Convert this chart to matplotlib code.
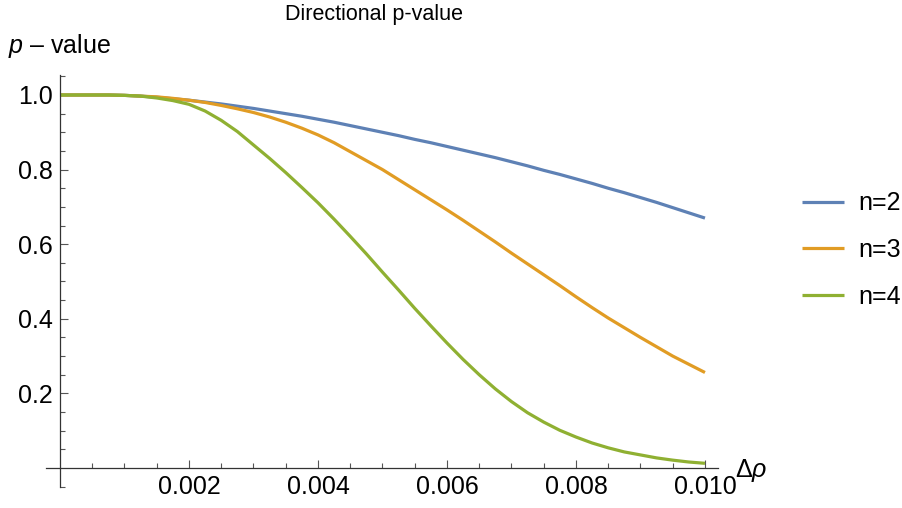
import matplotlib
matplotlib.use("Agg")
import matplotlib.pyplot as plt
from matplotlib.ticker import FixedLocator, FixedFormatter

plt.rcParams['font.family'] = ['Liberation Sans', 'DejaVu Sans']
plt.rcParams['mathtext.fontset'] = 'custom'
plt.rcParams['mathtext.rm'] = 'Liberation Sans'
plt.rcParams['mathtext.it'] = 'Liberation Sans:italic'

# values
delta_rho = [0.0, 0.00025, 0.0005, 0.00075, 0.001, 0.00125, 0.0015, 0.00175,
             0.002, 0.00225, 0.0025, 0.00275, 0.003, 0.00325, 0.0035, 0.00375,
             0.004, 0.00425, 0.0045, 0.00475, 0.005, 0.00525, 0.0055, 0.00575,
             0.006, 0.00625, 0.0065, 0.00675, 0.007, 0.00725, 0.0075, 0.00775,
             0.008, 0.00825, 0.0085, 0.00875, 0.009, 0.00925, 0.0095, 0.00975,
             0.010]
p_n2 = [1.000, 1.000, 1.000, 1.000, 0.999, 0.997, 0.994, 0.990, 0.986, 0.981,
        0.976, 0.970, 0.964, 0.957, 0.950, 0.943, 0.935, 0.927, 0.918, 0.909,
        0.900, 0.891, 0.881, 0.872, 0.862, 0.852, 0.842, 0.832, 0.821, 0.810,
        0.798, 0.787, 0.775, 0.763, 0.750, 0.738, 0.725, 0.712, 0.698, 0.684,
        0.670]
p_n3 = [1.000, 1.000, 1.000, 1.000, 0.999, 0.997, 0.995, 0.991, 0.986, 0.980,
        0.972, 0.963, 0.953, 0.941, 0.927, 0.911, 0.893, 0.872, 0.848, 0.824,
        0.800, 0.773, 0.746, 0.719, 0.692, 0.664, 0.635, 0.606, 0.576, 0.547,
        0.518, 0.489, 0.459, 0.430, 0.402, 0.376, 0.350, 0.325, 0.300, 0.278,
        0.256]
p_n4 = [1.000, 1.000, 1.000, 1.000, 0.999, 0.997, 0.992, 0.985, 0.975, 0.957,
        0.932, 0.902, 0.866, 0.830, 0.792, 0.752, 0.711, 0.667, 0.621, 0.574,
        0.525, 0.477, 0.428, 0.381, 0.335, 0.291, 0.250, 0.212, 0.178, 0.148,
        0.123, 0.101, 0.083, 0.067, 0.054, 0.043, 0.035, 0.027, 0.021, 0.016,
        0.0125]
series_labels = ["n=2", "n=3", "n=4"]
colors = ["#5E81B5", "#E19C24", "#8FB032"]

x_major = [0.002, 0.004, 0.006, 0.008, 0.010]
x_labels = ["0.002", "0.004", "0.006", "0.008", "0.010"]
y_major = [0.2, 0.4, 0.6, 0.8, 1.0]
y_labels = ["0.2", "0.4", "0.6", "0.8", "1.0"]
x_minor = [0.0005, 0.001, 0.0015, 0.0025, 0.003, 0.0035, 0.0045, 0.005, 0.0055,
           0.0065, 0.007, 0.0075, 0.0085, 0.009, 0.0095]
y_minor = [-0.05, 0.05, 0.1, 0.15, 0.25, 0.3, 0.35, 0.45, 0.5, 0.55, 0.65, 0.7,
           0.75, 0.85, 0.9, 0.95, 1.05]

fig = plt.figure(figsize=(9.03, 5.08), dpi=100)
ax = fig.add_axes([46 / 903, 21 / 508, 672 / 903, 412 / 508])

for ys, lab, col in zip([p_n2, p_n3, p_n4], series_labels, colors):
    ax.plot(delta_rho, ys, color=col, lw=2.3, label=lab, solid_capstyle='butt')

ax.set_xlim(-0.000217, 0.010202)
ax.set_ylim(-0.051, 1.0536)

for side in ['top', 'right']:
    ax.spines[side].set_visible(False)
ax.spines['left'].set_position(('data', 0))
ax.spines['bottom'].set_position(('data', 0))
for side in ['left', 'bottom']:
    ax.spines[side].set_color('#333333')
    ax.spines[side].set_linewidth(0.9)

ax.xaxis.set_major_locator(FixedLocator(x_major))
ax.xaxis.set_major_formatter(FixedFormatter(x_labels))
ax.xaxis.set_minor_locator(FixedLocator(x_minor))
ax.yaxis.set_major_locator(FixedLocator(y_major))
ax.yaxis.set_major_formatter(FixedFormatter(y_labels))
ax.yaxis.set_minor_locator(FixedLocator(y_minor))

ax.tick_params(which='both', direction='in', color='#555555', width=0.8,
               labelsize=18, labelcolor='black')
ax.tick_params(which='major', length=5.5)
ax.tick_params(which='minor', length=3.3)
ax.tick_params(axis='x', which='major', pad=5)
ax.tick_params(axis='y', which='major', pad=5)

ax.legend(loc='center left', bbox_to_anchor=(802 / 903, 1 - 250 / 508),
          bbox_transform=fig.transFigure, frameon=False, fontsize=18,
          handlelength=1.68, handletextpad=0.56, labelspacing=0.9,
          borderpad=0, borderaxespad=0)

fig.text(374 / 903, 1 - 20 / 508, "Directional p-value", fontsize=15.5,
         ha='center', va='baseline')
fig.text(8 / 903, 1 - 53 / 508, r"$\mathit{p}$ – value", fontsize=18,
         ha='left', va='baseline')
fig.text(735 / 903, 1 - 477 / 508, r"Δ$\mathit{ρ}$", fontsize=18,
         ha='left', va='baseline')

fig.savefig("out.png", dpi=100)
